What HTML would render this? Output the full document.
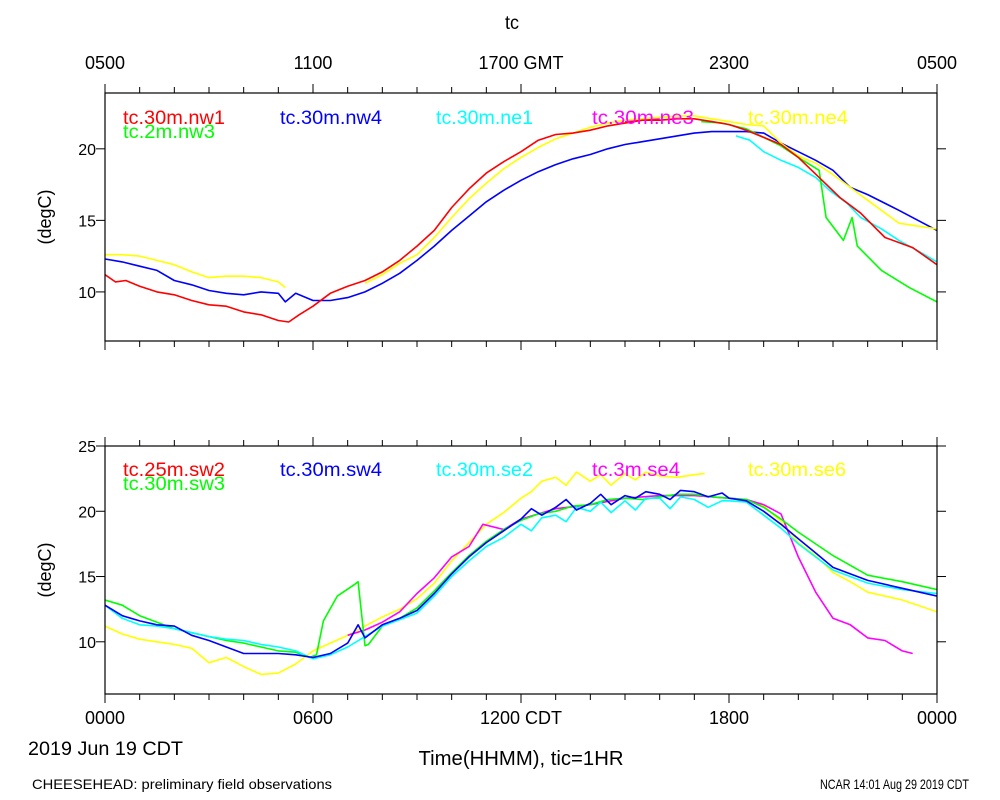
<!DOCTYPE html>
<html><head><meta charset="utf-8"><style>
body{margin:0;background:#fff;}
svg{display:block;font-family:"Liberation Sans",sans-serif;}
</style></head><body>
<svg id="c" width="1000" height="800" viewBox="0 0 1000 800"></svg>
<script>
// ---- data (hours CDT, degC) ----
const topNw1H=[0,0.3,0.6,1,1.5,2,2.5,3,3.5,4,4.5,5,5.3,5.6,6,6.5,7,7.5,8,8.5,9,9.5,10,10.5,11,11.5,12,12.5,13,13.5,14,14.5,15,15.5,16,16.5,17,17.5,18,18.5,19,19.5,20,20.6,21.2,21.8,22.5,23.3,24];
const topNw1V=[11.2,10.7,10.8,10.4,10.0,9.8,9.4,9.1,9.0,8.6,8.4,8.0,7.9,8.4,9.0,9.9,10.4,10.8,11.4,12.2,13.2,14.3,15.9,17.2,18.3,19.1,19.8,20.6,21.0,21.1,21.3,21.6,21.8,22.0,22.0,22.1,22.1,21.9,21.7,21.3,20.8,20.3,19.4,18.0,16.6,15.5,13.8,13.1,11.9];
const topNw3H=[17.2,17.8,18.5,19,19.5,20,20.6,20.8,21.3,21.55,21.7,22.4,23.2,24];
const topNw3V=[21.9,21.8,21.4,20.8,20.2,19.4,18.5,15.2,13.6,15.2,13.2,11.5,10.3,9.3];
const topNw4H=[0,0.5,1,1.5,2,2.5,3,3.5,4,4.5,5,5.2,5.5,6,6.5,7,7.5,8,8.5,9,9.5,10,10.5,11,11.5,12,12.5,13,13.5,14,14.5,15,15.5,16,16.5,17,17.5,18,18.5,19,19.5,20,20.5,21,21.5,22,22.9,24];
const topNw4V=[12.3,12.1,11.8,11.5,10.8,10.5,10.1,9.9,9.8,10.0,9.9,9.3,9.9,9.4,9.4,9.6,10.0,10.6,11.3,12.2,13.2,14.3,15.3,16.3,17.1,17.8,18.4,18.9,19.3,19.6,20.0,20.3,20.5,20.7,20.9,21.1,21.2,21.2,21.2,21.1,20.4,19.8,19.2,18.5,17.3,16.8,15.7,14.3];
const topNe1H=[18.2,18.6,19,19.5,20,20.5,20.9,21.4,21.8,22.4,22.9,23.5,24];
const topNe1V=[20.9,20.6,19.8,19.2,18.7,18.0,17.1,16.2,15.2,14.4,13.6,12.8,12.1];
const topNe3H=[15.0,15.5,16.0];
const topNe3V=[21.9,22.0,22.1];
const topNe4H=[0,0.5,1,1.5,2,2.5,3,3.5,4,4.5,5,5.2,null,7.5,8,8.5,9,9.5,10,10.5,11,11.5,12,12.5,13,13.5,14,14.5,15,15.5,16,16.5,17,17.5,18,18.5,19,19.5,20,20.5,21,21.5,22,22.9,24];
const topNe4V=[12.6,12.6,12.5,12.2,11.9,11.4,11.0,11.1,11.1,11.0,10.7,10.3,null,10.6,11.2,12.0,12.6,13.8,15.2,16.5,17.6,18.6,19.4,20.1,20.7,21.1,21.5,21.8,22.0,22.1,22.2,22.3,22.3,22.1,21.9,21.7,21.6,20.4,19.5,19.0,18.2,17.3,16.4,14.8,14.4];

const botSw3H=[0,0.5,1,1.5,2,2.5,3,3.5,4,4.5,5,5.5,5.9,6.1,6.3,6.7,7.2,7.3,7.5,7.6,8,8.5,9,9.5,10,10.5,11,11.5,12,12.5,13,13.5,14,14.5,15,15.5,16,16.5,17,17.5,18,18.5,19,19.5,20,21,22,23,24];
const botSw3V=[13.2,12.8,12.0,11.5,11.0,10.7,10.4,10.1,9.9,9.6,9.3,9.2,8.8,9.0,11.6,13.5,14.4,14.6,9.7,9.8,11.2,11.8,12.6,13.9,15.3,16.6,17.7,18.6,19.3,19.8,20.0,20.4,20.5,20.9,21.0,20.9,21.1,21.3,21.3,21.1,21.0,20.9,20.3,19.4,18.4,16.6,15.1,14.6,14.0];
const botSw4H=[0,0.5,1,1.5,2,2.5,3,3.5,4,4.5,5,5.5,6,6.5,7,7.3,7.5,8,8.5,9,9.5,10,10.5,11,11.5,12,12.3,12.6,13,13.3,13.6,14,14.3,14.6,15,15.3,15.6,16,16.3,16.6,17,17.4,17.8,18,18.5,19,19.5,20,20.5,21,22,23,24];
const botSw4V=[12.8,12.0,11.6,11.3,11.2,10.5,10.1,9.6,9.1,9.1,9.1,9.0,8.8,9.1,9.9,11.3,10.3,11.3,11.8,12.4,13.7,15.2,16.5,17.6,18.5,19.4,20.2,19.7,20.3,20.9,20.1,20.6,21.3,20.5,21.2,21.0,21.5,21.3,20.9,21.6,21.5,21.1,21.4,21.0,20.8,20.0,19.0,17.9,16.8,15.7,14.7,14.1,13.5];
const botSe2H=[0,0.5,1,1.5,2,2.5,3,3.5,4,4.5,5,5.5,6,6.5,7,7.5,8,8.5,9,9.5,10,10.5,11,11.5,12,12.3,12.6,13,13.3,13.6,14,14.3,14.6,15,15.3,15.6,16,16.3,16.6,17,17.4,17.8,18,18.5,19,19.5,20,21,22,23,24];
const botSe2V=[12.8,11.8,11.3,11.2,11.0,10.7,10.4,10.2,10.1,9.8,9.6,9.3,8.7,9.0,9.6,10.4,11.2,11.7,12.2,13.5,15.0,16.2,17.3,18.0,19.0,18.5,19.5,19.7,19.2,20.3,20.0,20.7,19.9,20.8,20.1,21.0,21.0,20.2,21.1,20.9,20.3,20.8,20.8,20.7,19.7,18.7,17.5,15.5,14.5,14.0,13.7];
const botSe4H=[7,7.5,8,8.5,9,9.5,10,10.5,10.9,11.5,12,13,14,15,16,17,18,18.5,19,19.5,20,20.5,21,21.5,22,22.5,23,23.3];
const botSe4V=[10.5,10.9,11.5,12.3,13.7,14.9,16.5,17.3,19.0,18.6,19.4,20.2,20.5,21.0,21.2,21.2,21.0,20.9,20.5,19.8,16.5,13.8,11.8,11.3,10.3,10.1,9.3,9.1];
const botSe6H=[0,0.5,1,1.5,2,2.5,3,3.5,4,4.5,5,5.5,6,6.5,7,7.5,8,8.5,9,9.5,10,10.5,11,11.5,12,12.3,12.6,13,13.3,13.6,14,14.3,14.6,15,15.3,15.6,16,16.5,17,17.3,null,18.6,19,19.5,20,20.5,21,21.5,22,23,24];
const botSe6V=[11.2,10.6,10.2,10.0,9.8,9.5,8.4,8.8,8.1,7.5,7.6,8.3,9.3,9.9,10.5,11.2,11.9,12.5,13.3,14.5,16.2,17.6,19.0,19.9,21.0,21.5,22.3,22.6,22.0,23.0,22.3,22.8,22.0,22.9,22.4,23.0,22.7,22.6,22.8,22.9,null,20.8,20.4,19.2,17.6,16.6,15.3,14.6,13.8,13.2,12.3];

const topTicks=[10,15,20], botTicks=[10,15,20,25];
const topLabels=["0500","1100","1700 GMT","2300","0500"];
const botLabels=["0000","0600","1200 CDT","1800","0000"];

const svg=document.getElementById('c');
const NS='http://www.w3.org/2000/svg';
function mk(tag,attrs,parent){const e=document.createElementNS(NS,tag);for(const k in attrs)e.setAttribute(k,attrs[k]);(parent||svg).appendChild(e);return e;}
const X0=105,X1=937;
const xs=h=>X0+(X1-X0)*h/24;
function panel(name,top,bot,ymin,ymax,ticks,series,legend,labelsTop,labelsBot){
  const ys=v=>bot-(bot-top)*(v-ymin)/(ymax-ymin);
  const g=mk('g',{});  
  const clipId=name+'clip';
  const cp=mk('clipPath',{id:clipId},g); mk('rect',{x:X0,y:top,width:X1-X0,height:bot-top},cp);
  const lg=mk('g',{'clip-path':'url(#'+clipId+')'},g);
  series.forEach(s=>{
    let d='',pen=false;
    s.h.forEach((h,i)=>{if(h===null||s.v[i]===null){pen=false;return;} d+=(pen?'L':'M')+xs(h).toFixed(1)+','+ys(s.v[i]).toFixed(1);pen=true;});
    const p=mk('path',{d:d,fill:'none',stroke:s.c,'stroke-width':1.6,'stroke-linejoin':'round'},lg);
    
    
  });
  const fr=mk('rect',{x:X0,y:top,width:X1-X0,height:bot-top,fill:'none',stroke:'#000','stroke-width':1.2},g);
  
  
  for(let h=0;h<=24;h++){const L=h%6===0?9:6;const x=xs(h);
    mk('line',{x1:x,y1:top,x2:x,y2:top-L,stroke:'#000'},g);
    mk('line',{x1:x,y1:bot,x2:x,y2:bot+L,stroke:'#000'},g);}
  ticks.forEach(v=>{const y=ys(v);
    mk('line',{x1:X0,y1:y,x2:X0-9,y2:y,stroke:'#000'},g);
    mk('line',{x1:X1,y1:y,x2:X1+9,y2:y,stroke:'#000'},g);
    const t=mk('text',{x:96,y:y+6,'text-anchor':'end','font-size':16},g);t.textContent=v;
    
    });
  const yl=mk('text',{x:0,y:0,'text-anchor':'middle','font-size':18,transform:'translate(51,'+((top+bot)/2)+') rotate(-90)'},g);yl.textContent='(degC)';
  
  
  legend.forEach(l=>{const t=mk('text',{x:l.x,y:l.y,'font-size':19,fill:l.c,textLength:l.w,lengthAdjust:'spacingAndGlyphs'},g);t.textContent=l.t;
    
    });
  const lbl=(arr,y)=>arr.forEach((s,i)=>{const t=mk('text',{x:xs(i*6),y:y,'text-anchor':'middle','font-size':18},g);t.textContent=s;
    
    });
  if(labelsTop)lbl(labelsTop,69);
  if(labelsBot)lbl(labelsBot,724);
}
panel('top',93,341,6.57,23.9,topTicks,[
 {n:'tc-30m-nw4',c:'#0000ff',h:topNw4H,v:topNw4V},
 {n:'tc-30m-ne3',c:'#ff00ff',h:topNe3H,v:topNe3V},
 {n:'tc-30m-ne1',c:'#00ffff',h:topNe1H,v:topNe1V},
 {n:'tc-30m-ne4',c:'#ffff00',h:topNe4H,v:topNe4V},
 {n:'tc-2m-nw3',c:'#00ff00',h:topNw3H,v:topNw3V},
 {n:'tc-30m-nw1',c:'#ff0000',h:topNw1H,v:topNw1V}],
 [{x:123,y:124,c:'#ff0000',t:'tc.30m.nw1',w:102},{x:123,y:138,c:'#00ff00',t:'tc.2m.nw3',w:92},{x:280,y:124,c:'#0000ff',t:'tc.30m.nw4',w:102},
  {x:436,y:124,c:'#00ffff',t:'tc.30m.ne1',w:97},{x:592,y:124,c:'#ff00ff',t:'tc.30m.ne3',w:102},{x:748,y:124,c:'#ffff00',t:'tc.30m.ne4',w:100}],
 topLabels,null);
panel('bottom',446,694,6.0,25.0,botTicks,[
 {n:'tc-30m-se6',c:'#ffff00',h:botSe6H,v:botSe6V},
 {n:'tc-3m-se4',c:'#ff00ff',h:botSe4H,v:botSe4V},
 {n:'tc-30m-sw3',c:'#00ff00',h:botSw3H,v:botSw3V},
 {n:'tc-30m-se2',c:'#00ffff',h:botSe2H,v:botSe2V},
 {n:'tc-30m-sw4',c:'#0000ff',h:botSw4H,v:botSw4V}],
 [{x:123,y:476,c:'#ff0000',t:'tc.25m.sw2',w:102},{x:123,y:490,c:'#00ff00',t:'tc.30m.sw3',w:102},{x:280,y:476,c:'#0000ff',t:'tc.30m.sw4',w:102},
  {x:436,y:476,c:'#00ffff',t:'tc.30m.se2',w:97},{x:592,y:476,c:'#ff00ff',t:'tc.3m.se4',w:88},{x:748,y:476,c:'#ffff00',t:'tc.30m.se6',w:98}],
 null,botLabels);
function txt(name,x,y,s,size,w,anchor){const t=mk('text',{x:x,y:y,'font-size':size,'text-anchor':anchor||'start',textLength:w,lengthAdjust:'spacingAndGlyphs'});t.textContent=s;
  
  }
txt('chart-title',512,29,'tc',19,14,'middle');
txt('date-label',28,755,'2019 Jun 19 CDT',19,155);
txt('x-axis-title',521,765,'Time(HHMM), tic=1HR',20,205,'middle');
txt('footer-left',32,789,'CHEESEHEAD: preliminary field observations',14,300);
txt('footer-right',969,789,'NCAR 14:01 Aug 29 2019 CDT',14,149,'end');
</script>
</body></html>
